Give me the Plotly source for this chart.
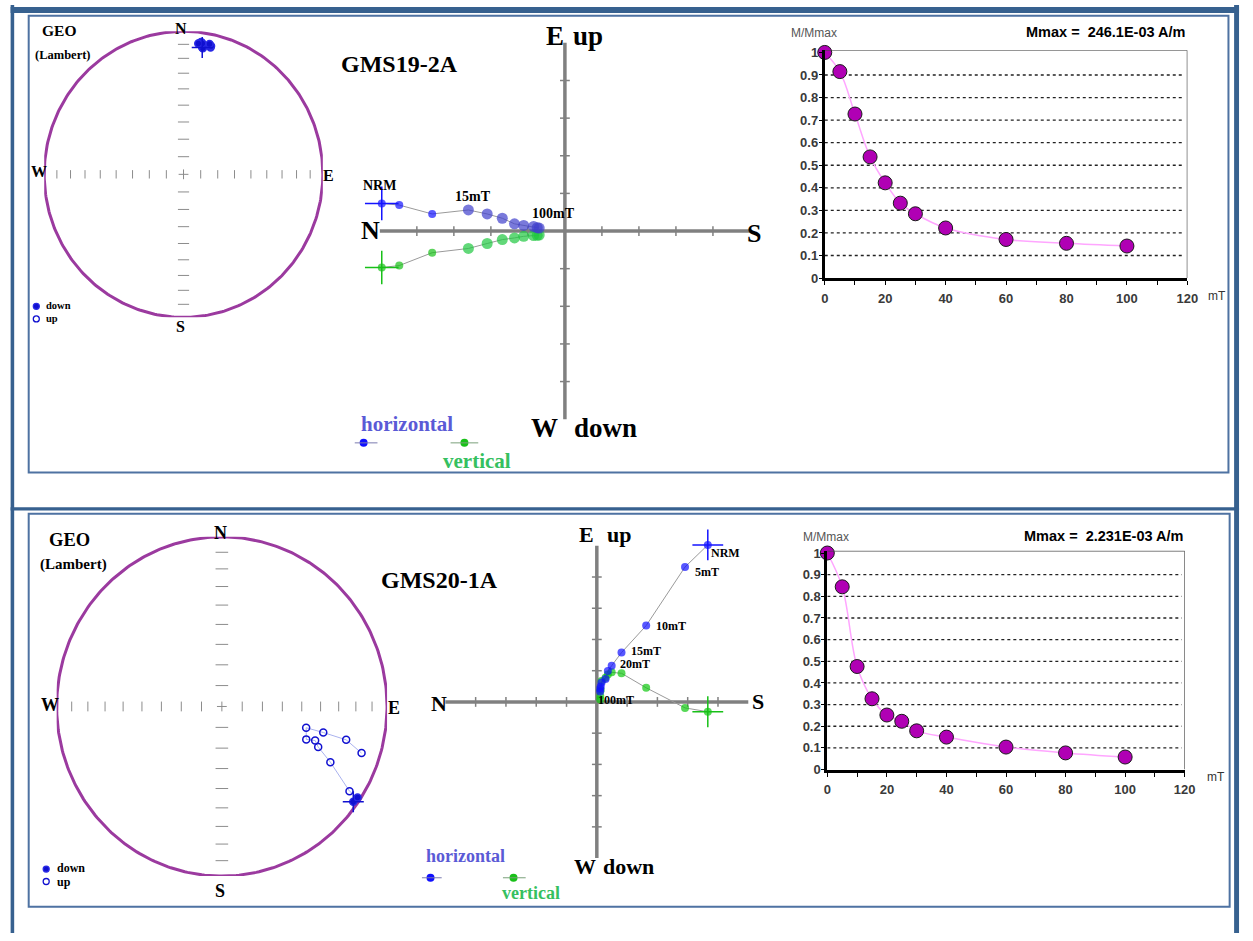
import numpy as np
import plotly.graph_objects as go

W, H = 1253, 941
FW, FH = W, H

# ---------------------------------------------------------------- data
steps = ["NRM", "5mT", "10mT", "15mT", "20mT", "25mT", "30mT", "40mT", "60mT", "80mT", "100mT"]
field_mT = [0, 5, 10, 15, 20, 25, 30, 40, 60, 80, 100]

# GMS19-2A : demagnetisation vector components (10^-3 A/m)
a_name = "GMS19-2A"
a_north = [238.7, 215.9, 173.0, 125.8, 101.3, 81.6, 65.7, 53.7, 40.8, 36.1, 33.5]
a_east = [36.1, 33.9, 22.3, 27.5, 22.3, 16.7, 9.4, 7.3, 6.0, 4.3, 3.9]
a_down = [47.7, 45.1, 28.3, 22.8, 16.3, 11.2, 9.0, 6.9, 6.0, 5.6, 5.2]
a_mnorm = [1.0, 0.915, 0.727, 0.537, 0.422, 0.332, 0.285, 0.222, 0.171, 0.154, 0.142]

# GMS20-1A : demagnetisation vector components (10^-3 A/m)
b_name = "GMS20-1A"
b_north = [-1.286, -1.022, -0.572, -0.286, -0.172, -0.128, -0.101, -0.055, -0.045, -0.040, -0.039]
b_east = [1.820, 1.564, 0.885, 0.572, 0.420, 0.360, 0.266, 0.224, 0.180, 0.153, 0.120]
b_down = [0.114, 0.069, -0.164, -0.332, -0.343, -0.319, -0.280, -0.242, -0.139, -0.068, -0.027]
b_mnorm = [1.0, 0.844, 0.476, 0.327, 0.252, 0.223, 0.179, 0.150, 0.104, 0.077, 0.058]

net_ticks_inc = [10, 20, 30, 40, 50, 60, 70, 80]
demag_xticks = [0, 20, 40, 60, 80, 100, 120]
demag_yticks = [0, 0.1, 0.2, 0.3, 0.4, 0.5, 0.6, 0.7, 0.8, 0.9, 1.0]

# ---------------------------------------------------------------- helpers
SERIF = "Liberation Serif"
SANS = "Liberation Sans"
FRAME = "#37618f"
PURPLE = "#9b3a9f"
AXGRAY = "#808080"


def dec_inc(n, e, d):
    n, e, d = (np.asarray(v, float) for v in (n, e, d))
    dec = np.degrees(np.arctan2(e, n)) % 360
    inc = np.degrees(np.arctan2(d, np.hypot(n, e)))
    return dec, inc


def lambert(dec, inc):
    r = np.sqrt(2) * np.sin(np.radians(90 - np.abs(np.asarray(inc, float))) / 2)
    d = np.radians(dec)
    return r * np.sin(d), r * np.cos(d)


def xd(x0, x1):
    return [x0 / FW, x1 / FW]


def yd(ytop, ybot):
    return [1 - ybot / FH, 1 - ytop / FH]


fig = go.Figure()
ann = []
shapes = []


def ref(i):
    return ("x", "y") if i == 1 else (f"x{i}", f"y{i}")


def add(trace, i):
    xa, ya = ref(i)
    trace.update(xaxis=xa, yaxis=ya, showlegend=False, hoverinfo="skip")
    if isinstance(trace, go.Scatter):
        trace.update(cliponaxis=False)
    fig.add_trace(trace)


def text(x, y, s, size, color="black", family=SANS, bold=True, xanchor="center", i=7, **kw):
    xa, ya = ref(i)
    ann.append(dict(x=x, y=y, xref=xa, yref=ya, text=f"<b>{s}</b>" if bold else s,
                    showarrow=False, xanchor=xanchor, yanchor="middle",
                    font=dict(family=family, size=size, color=color), **kw))


def stext(x, y, s, size, color="black", **kw):
    text(x, y, s, size, color=color, family=SERIF, **kw)


axes = {}


def set_axes(i, xdom, ydom, xr, yr, xextra=None, yextra=None):
    xa, ya = ref(i)
    xn = "xaxis" if i == 1 else f"xaxis{i}"
    yn = "yaxis" if i == 1 else f"yaxis{i}"
    base = dict(visible=False, showgrid=False, zeroline=False, fixedrange=True)
    xdict = dict(base, domain=xdom, range=xr, anchor=ya)
    ydict = dict(base, domain=ydom, range=yr, anchor=xa)
    if xextra:
        xdict.update(xextra)
    if yextra:
        ydict.update(yextra)
    axes[xn] = xdict
    axes[yn] = ydict


# ---------------------------------------------------------------- stereonet
def stereonet(i, north, east, down, tick_w, mk):
    dec, inc = dec_inc(north, east, down)
    x, y = lambert(dec, inc)
    th = np.linspace(0, 2 * np.pi, 361)
    add(go.Scatter(x=np.cos(th), y=np.sin(th), mode="lines",
                   line=dict(color=PURPLE, width=3)), i)
    r = np.sqrt(2) * np.sin(np.radians(90 - np.array(net_ticks_inc)) / 2)
    rr = np.concatenate([r, -r])
    add(go.Scatter(x=np.zeros_like(rr), y=rr, mode="markers",
                   marker=dict(symbol="line-ew", size=tick_w, line=dict(color="#8c8c8c", width=1))), i)
    add(go.Scatter(x=rr, y=np.zeros_like(rr), mode="markers",
                   marker=dict(symbol="line-ns", size=tick_w - 2, line=dict(color="#8c8c8c", width=1))), i)
    add(go.Scatter(x=[0], y=[0], mode="markers",
                   marker=dict(symbol="cross-thin", size=7, line=dict(color="#8c8c8c", width=1))), i)
    add(go.Scatter(x=x, y=y, mode="lines", line=dict(color="#aab2ee", width=1)), i)
    sym = ["circle" if v >= 0 else "circle-open" for v in inc]
    add(go.Scatter(x=x, y=y, mode="markers",
                   marker=dict(symbol=sym, size=mk, color="#1010d0",
                               line=dict(color="#2a2ae6", width=1.5))), i)
    add(go.Scatter(x=[x[0]], y=[y[0]], mode="markers",
                   marker=dict(symbol="cross-thin", size=15, line=dict(color="#1010d0", width=1.5))), i)


# ---------------------------------------------------------------- zijderveld
def zij_axes(i, cx, cy, hx, hy, rx, ry, pad=30):
    """Axis frame centred on the origin (pixels cx, cy); the drawn axes span +-rx / +-ry."""
    sx, sy = (hx + pad) / hx, (hy + pad) / hy
    set_axes(i, xd(cx - hx - pad, cx + hx + pad), yd(cy - hy - pad, cy + hy + pad),
             [-rx * sx, rx * sx], [-ry * sy, ry * sy])


def zijderveld(i, north, east, down, rx, ry, sizes, blues, greens, cross):
    xs = [-v for v in north]
    up = [-v for v in down]
    xa, ya = ref(i)
    shapes.append(dict(type="line", xref=xa, yref=ya, x0=-rx, x1=rx, y0=0, y1=0,
                       line=dict(color=AXGRAY, width=3.5), layer="below"))
    shapes.append(dict(type="line", xref=xa, yref=ya, x0=0, x1=0, y0=-ry, y1=ry,
                       line=dict(color=AXGRAY, width=3.5), layer="below"))
    k = np.array([-4, -3, -2, -1, 1, 2, 3, 4])
    add(go.Scatter(x=k * rx / 5, y=np.zeros(8), mode="markers",
                   marker=dict(symbol="line-ns", size=7, line=dict(color=AXGRAY, width=1.5))), i)
    add(go.Scatter(x=np.zeros(8), y=k * ry / 5, mode="markers",
                   marker=dict(symbol="line-ew", size=7, line=dict(color=AXGRAY, width=1.5))), i)
    add(go.Scatter(x=xs, y=east, mode="lines", line=dict(color="#9a9a9a", width=1)), i)
    add(go.Scatter(x=xs, y=up, mode="lines", line=dict(color="#9a9a9a", width=1)), i)
    add(go.Scatter(x=xs, y=up, mode="markers",
                   marker=dict(size=sizes, color=greens, line=dict(width=0))), i)
    add(go.Scatter(x=xs, y=east, mode="markers",
                   marker=dict(size=sizes, color=blues, line=dict(width=0))), i)
    add(go.Scatter(x=[xs[0]], y=[east[0]], mode="markers",
                   marker=dict(symbol="cross-thin", size=cross, line=dict(color="#1414ff", width=1.5))), i)
    add(go.Scatter(x=[xs[0]], y=[up[0]], mode="markers",
                   marker=dict(symbol="cross-thin", size=cross, line=dict(color="#18c018", width=1.5))), i)


# ---------------------------------------------------------------- demag curve
def demag(i, mnorm, mmax_txt, lbl_pos):
    xa, ya = ref(i)
    for v in demag_yticks[1:-1]:
        shapes.append(dict(type="line", xref=xa, yref=ya, x0=0, x1=119, y0=v, y1=v,
                           line=dict(color="#222222", width=1.3, dash="3px,3px"), layer="below"))
    shapes.append(dict(type="line", xref=xa, yref=ya, x0=0, x1=120, y0=1.01, y1=1.01,
                       line=dict(color="#444444", width=1.2)))
    shapes.append(dict(type="line", xref=xa, yref=ya, x0=120, x1=120, y0=0, y1=1.01,
                       line=dict(color="#444444", width=1.2)))
    add(go.Scatter(x=field_mT, y=mnorm, mode="lines", line=dict(color="#ffa6ff", width=1.5, shape="spline")), i)
    add(go.Scatter(x=field_mT, y=mnorm, mode="markers",
                   marker=dict(size=14, color="#b000b4", line=dict(color="#1a1a1a", width=1))), i)
    (mx, my), (vx, vy), (ux, uy) = lbl_pos
    text(mx, my, "M/Mmax", 12, color="#555555", bold=False)
    text(vx, vy, f"Mmax =  {mmax_txt} A/m", 14.5)
    text(ux, uy, "mT", 12, color="#333333", bold=False)


def demag_axes(i, xdom, ydom):
    tf = dict(family=SANS, size=13, color="#3a3a3a", weight="bold")
    set_axes(i, xdom, ydom, [0, 120], [0, 1.01],
             xextra=dict(visible=True, showline=True, linecolor="black", linewidth=3,
                         ticks="outside", ticklen=4, tickcolor="black", tickwidth=1,
                         tickvals=demag_xticks, tickfont=tf, ticklabelstandoff=2,
                         minor=dict(tickvals=[10, 30, 50, 70, 90, 110], ticks="outside",
                                    ticklen=4, tickcolor="black")),
             yextra=dict(visible=True, showline=True, linecolor="black", linewidth=3,
                         ticks="outside", ticklen=3, tickcolor="black", tickwidth=1,
                         tickvals=demag_yticks,
                         ticktext=["0" if v == 0 else ("1" if v == 1 else f"{v:.1f}") for v in demag_yticks],
                         tickfont=tf, ticklabelstandoff=-2))


# ================================================================ GMS19-2A
set_axes(1, xd(40.7, 322.7), yd(26.7, 316.7), [-1, 1], [-1, 1])
stereonet(1, a_north, a_east, a_down, 8, 7)
stext(179.3, 24.3, "N", 16)
stext(179, 326, "S", 16)
stext(35, 169.3, "W", 16)
stext(328.3, 173.3, "E", 16)
stext(56, 25.7, "GEO", 15.5)
stext(60, 50.7, "(Lambert)", 12.5)
stext(40, 305, "down", 10.5, xanchor="left")
stext(40, 318, "up", 10.5, xanchor="left")

a_rx, a_ry = 241.2, 245.8
zij_axes(2, 567.7, 229.2, 187.3, 190.8, a_rx, a_ry)
zijderveld(2, a_north, a_east, a_down, a_rx, a_ry,
           [8, 8, 8, 11, 11, 11, 11, 11, 11, 11, 11],
           ["#1414ff"] * 3 + ["#4040cc"] * 8,
           ["#18c018"] * 3 + ["#20c840"] * 8, 24)
for idx, dx, dy in [(0, -2, 18), (3, 5, 13), (10, 14, 15)]:
    ann.append(dict(x=-a_north[idx], y=a_east[idx], xref="x2", yref="y2", text=f"<b>{steps[idx]}</b>",
                    showarrow=False, xshift=dx, yshift=dy,
                    font=dict(family=SERIF, size=14, color="black")))
stext(400, 60, a_name, 24)
stext(558, 31, "E", 27)
stext(591, 31, "up", 27)
stext(546.7, 429, "W", 27)
stext(608.3, 429, "down", 27)
stext(370.7, 229, "N", 26)
stext(759.3, 232, "S", 26)
stext(408, 425, "horizontal", 21, color="#5a5ad6")
stext(479, 462, "vertical", 21, color="#35c060")

demag_axes(3, xd(830.7, 1197.7), yd(45.8, 276.9))
a_mmax = float(np.sqrt(a_north[0] ** 2 + a_east[0] ** 2 + a_down[0] ** 2))
demag(3, a_mnorm, f"{a_mmax:.1f}E-03", [(820, 28.3), (1115, 27.3), (1228, 295)])

# ================================================================ GMS20-1A
set_axes(4, xd(53.3, 387.7), yd(539.3, 883.3), [-1, 1], [-1, 1])
stereonet(4, b_north, b_east, b_down, 9, 7)
stext(219, 535, "N", 18)
stext(219, 898.3, "S", 18)
stext(46.7, 709.3, "W", 18)
stext(395, 713.3, "E", 18)
stext(66.7, 542.7, "GEO", 18.5)
stext(70, 567.7, "(Lambert)", 15)
stext(51.7, 875.5, "down", 12, xanchor="left")
stext(51.7, 889, "up", 12, xanchor="left")

b_rx, b_ry = 1.755, 1.81
zij_axes(5, 600.0, 706.7, 153.3, 158.35, b_rx, b_ry)
zijderveld(5, b_north, b_east, b_down, b_rx, b_ry, [8] * 11,
           ["#1010ff"] * 11, ["#10c810"] * 11, 22)
for idx, dx, dy in [(0, 1, -8), (1, 8, -5), (2, 8, 0), (3, 7, 2), (4, 6, 2), (10, -4, -8)]:
    ann.append(dict(x=-b_north[idx], y=b_east[idx], xref="x5", yref="y5", text=f"<b>{steps[idx]}</b>",
                    showarrow=False, xshift=dx, yshift=dy, xanchor="left",
                    font=dict(family=SERIF, size=12, color="black")))
stext(441, 583, b_name, 24)
stext(590, 536.7, "E", 22)
stext(622.7, 536.7, "up", 22)
stext(588.3, 874, "W", 22)
stext(632, 874, "down", 22)
stext(440, 708.3, "N", 22)
stext(763.3, 706, "S", 22)
stext(466.7, 863.3, "horizontal", 18, color="#5a5ad6")
stext(533.3, 900, "vertical", 18, color="#35c060")

demag_axes(6, xd(833.3, 1195.0), yd(553.5, 775.3))
b_mmax = float(np.sqrt(b_north[0] ** 2 + b_east[0] ** 2 + b_down[0] ** 2))
demag(6, b_mnorm, f"{b_mmax:.3f}E-03", [(831.7, 539), (1113.3, 538.3), (1226.7, 783.3)])

# ================================================================ page overlay (page pixel units)
set_axes(7, [0, 1], [0, 1], [0, FW], [FH, 0])
# legend keys
for (lx0, lx1, mx, my, col) in [(355, 378, 364, 444, "#1010ff"), (452, 480, 466, 444, "#18c018"),
                                (423, 443, 431.7, 885, "#1010ff"), (505, 528, 515.7, 885, "#18c018")]:
    shapes.append(dict(type="line", xref="x7", yref="y7", x0=lx0, x1=lx1, y0=my, y1=my,
                       line=dict(color="#7a7ab0" if col == "#1010ff" else "#7aa07a", width=1)))
    add(go.Scatter(x=[mx], y=[my], mode="markers", marker=dict(size=8, color=col)), 7)
# stereonet down / up keys
for (mx, my, sym) in [(32.7, 305.5, "circle"), (32.7, 318.3, "circle-open"),
                      (42.7, 876.2, "circle"), (42.7, 888.8, "circle-open")]:
    add(go.Scatter(x=[mx], y=[my], mode="markers",
                   marker=dict(symbol=sym, size=6, color="#1010d0", line=dict(color="#2a2ae6", width=1.3))), 7)

# frames
for (x0, y0, x1, y1) in [(6.7, 0, 10.3, FH), (1245, 0, 1250, FH), (6.7, 2, 1250, 8), (6.7, 509.3, 1250, 512.7)]:
    shapes.append(dict(type="rect", xref="x7", yref="y7", x0=x0, y0=y0, x1=x1, y1=y1,
                       fillcolor=FRAME, line=dict(width=0)))
for (x0, y0, x1, y1) in [(25, 11, 1239.3, 474), (25, 516, 1240.5, 914.5)]:
    shapes.append(dict(type="rect", xref="x7", yref="y7", x0=x0, y0=y0, x1=x1, y1=y1,
                       line=dict(color="#4e72a2", width=2)))

fig.update_layout(width=FW, height=FH, autosize=False, margin=dict(l=0, r=0, t=0, b=0),
                  paper_bgcolor="white", plot_bgcolor="rgba(0,0,0,0)",
                  annotations=ann, shapes=shapes, **axes)
fig.write_html("out.html")
